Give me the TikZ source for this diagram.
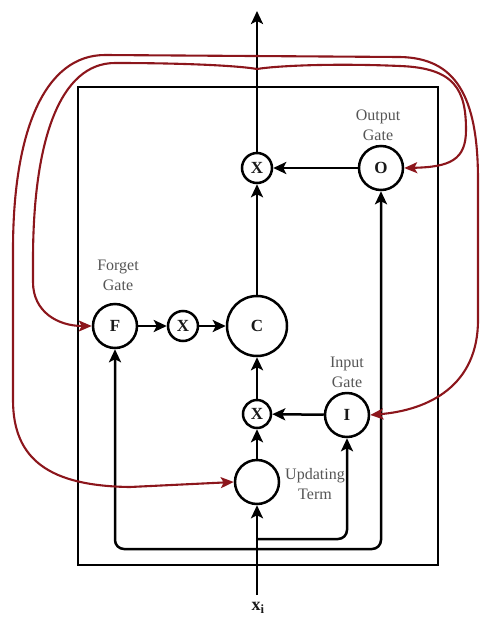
\documentclass[tikz,border=0pt]{standalone}
\usepackage{fontspec}
\setmainfont{Liberation Serif}
\usetikzlibrary{arrows.meta}
\definecolor{fbred}{RGB}{140,22,28}
\definecolor{labgray}{RGB}{85,85,85}
\definecolor{ink}{RGB}{25,25,25}
\tikzset{
  gate/.style={circle, draw=black, line width=2.5pt, fill=white, inner sep=0pt,
    text=ink, font=\fontsize{17}{17}\selectfont\bfseries},
  conn/.style={line width=2.5pt, -{Stealth[length=13pt,width=12pt,inset=3pt]}},
  fbboth/.style={line width=2.1pt, draw=fbred,
    {Stealth[length=13pt,width=11pt,inset=3pt]}-{Stealth[length=13pt,width=11pt,inset=3pt]}},
  lab/.style={font=\fontsize{16}{20}\selectfont, text=labgray, align=center, inner sep=0pt},
}
\begin{document}
\begin{tikzpicture}[x=1pt,y=-1pt]
\useasboundingbox (0,0) rectangle (483,619);
% cell box
\node[draw=black, line width=2.5pt, minimum width=360pt, minimum height=478pt, inner sep=0pt] (cell) at (258,326) {};
% labels and gates
\node[lab] (Olab) at (378,125) {Output\\Gate};
\node[gate, minimum size=44pt] (O) at (381,168) {O};
\node[gate, minimum size=30pt] (Xt) at (257,168) {X};
\node[lab] (Flab) at (118,275) {Forget\\Gate};
\node[gate, minimum size=44pt] (F) at (115,326) {F};
\node[gate, minimum size=30pt] (Xm) at (183,326) {X};
\node[gate, minimum size=60pt] (C) at (257,326) {C};
\node[lab] (Ilab) at (347,372) {Input\\Gate};
\node[gate, minimum size=44pt] (I) at (347,415) {I};
\node[gate, minimum size=28pt] (Xl) at (257,414) {X};
\node[lab] (Ulab) at (315,484) {Updating\\Term};
\node[gate, minimum size=44pt] (U) at (257,482) {};
\node[font=\fontsize{18}{18}\selectfont\bfseries, text=ink, inner sep=1pt] (xi) at (258,608) {x\textsubscript{i}};
% free ends
\coordinate (out) at (257,11);
\coordinate (xin) at (257,595);
\coordinate (j1) at (257,539);
\coordinate (j2) at (257,549);
% black connectors
\draw[conn] (Xt) -- (out);
\draw[conn] (O) -- (Xt);
\draw[conn] (C) -- (Xt);
\draw[conn] (F) -- (Xm);
\draw[conn] (Xm) -- (C);
\draw[conn] (Xl) -- (C);
\draw[conn] (I) -- (Xl);
\draw[conn] (U) -- (Xl);
\draw[conn] (xin) -- (U);
\draw[conn, rounded corners=9pt] (j1) -| (I.south);
\draw[conn, rounded corners=9pt] (j2) -| (F.south);
\draw[conn, rounded corners=9pt] (j2) -| (O.south);
% feedback (red) connectors
\draw[fbboth] (F.west) .. controls (58,326) and (33,312) .. (33,282)
  -- (33,260) .. controls (33,140) and (60,63) .. (115,63)
  .. controls (190,63) and (240,66) .. (257,69)
  .. controls (275,66) and (330,63) .. (400,66)
  .. controls (455,68) and (466,90) .. (466,130)
  .. controls (466,160) and (450,167) .. (O.east);
\draw[fbboth] (U.west) -- (130,487) .. controls (50,486) and (13,460) .. (13,400)
  -- (13,250) .. controls (13,130) and (45,55) .. (105,55)
  -- (400,57) .. controls (455,58) and (478,95) .. (478,180)
  -- (478,320) .. controls (478,385) and (430,410) .. (I.east);
\end{tikzpicture}
\end{document}
